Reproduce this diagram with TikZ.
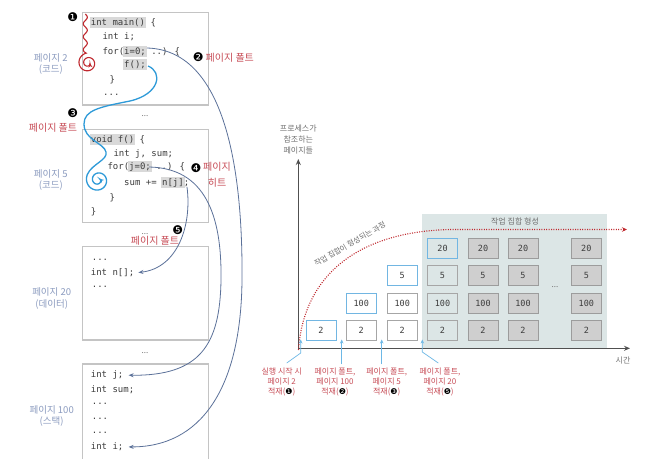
\documentclass[tikz,border=0pt]{standalone}
\usepackage{fontspec}
\setmainfont{Noto Sans CJK KR}
\newfontfamily\monof{DejaVu Sans Mono}
\newfontfamily\djv{DejaVu Sans}
\usetikzlibrary{arrows.meta}
\definecolor{boxc}{HTML}{C4C4C4}
\definecolor{codec}{HTML}{3C3C3C}
\definecolor{hlc}{HTML}{D9D9D9}
\definecolor{pagec}{HTML}{8C9CC0}
\definecolor{redc}{HTML}{C84E58}
\definecolor{connc}{HTML}{5B7199}
\definecolor{bluec}{HTML}{2E9AD8}
\definecolor{redw}{HTML}{C0282E}
\definecolor{bgc}{HTML}{DCE6E6}
\definecolor{newc}{HTML}{72B6E2}
\definecolor{oldc}{HTML}{A6A6A6}
\definecolor{fullc}{HTML}{CFCFCF}
\definecolor{fullbd}{HTML}{9C9C9C}
\definecolor{axisc}{HTML}{505050}
\definecolor{grayt}{HTML}{707070}
\definecolor{tarc}{HTML}{6DB8E6}
\newcommand\hl[1]{\setbox0=\hbox{#1}\rlap{\kern-1pt\textcolor{hlc}{\rule[-2.5pt]{\dimexpr\wd0+2pt\relax}{11pt}}}\box0\relax}
\begin{document}
\begin{tikzpicture}[x=1pt,y=-1pt,
  pagebox/.style={draw=boxc, line width=1.3pt, inner sep=0pt, minimum width=126pt},
  code/.style={anchor=base west, inner sep=0pt, font=\monof\fontsize{9}{10}\selectfont, text=codec, text height=7pt, text depth=2pt},
  pl/.style={text=pagec, align=center, font=\fontsize{9.5}{11.5}\selectfont, inner sep=0pt},
  rl/.style={text=redc, align=center, font=\fontsize{10}{16}\selectfont, inner sep=0pt},
  bn/.style={inner sep=0pt, font=\djv\fontsize{12}{12}\selectfont},
  gapdots/.style={anchor=base, inner sep=0pt, text=grayt, font=\fontsize{8}{8}\selectfont},
  conn/.style={draw=connc, line width=0.8pt, -{Stealth[length=5pt,width=4pt]}},
  gb/.style={draw, minimum width=30pt, minimum height=19.5pt, inner sep=0pt, font=\monof\fontsize{8.5}{9}\selectfont, text=codec, line width=1pt},
  gnew/.style={gb, draw=newc, fill=white},
  gold/.style={gb, draw=oldc, fill=white},
  gws/.style={gb, draw=oldc, fill=bgc},
  gwsnew/.style={gb, draw=newc, fill=bgc},
  gfull/.style={gb, draw=fullbd, fill=fullc},
  gl/.style={text=grayt, align=center, font=\fontsize{8}{11}\selectfont, inner sep=0pt},
  tl/.style={text=redc, align=center, font=\fontsize{8}{10}\selectfont, inner sep=0pt},
  axc/.style={draw=axisc, line width=1pt, -{Stealth[length=6pt,width=5pt]}},
  tarr/.style={draw=tarc, line width=0.7pt, -{Stealth[length=4pt,width=3.5pt]}}
]
\useasboundingbox (0,0) rectangle (666,458);
\fill[white] (0,0) rectangle (666,458);

% ---------- left: pages ----------
\node[pagebox, minimum height=92.7pt] (p2) at (145.3,58.65) {};
\node[pagebox, minimum height=93.4pt] (p5) at (145.3,176) {};
\node[pagebox, minimum height=93.3pt] (p20) at (145.3,293.35) {};
\node[pagebox, minimum height=116pt] (p100) at (145.3,422) {};

\node[gapdots] (d1) at (145,116.5) {...};
\node[gapdots] (d2) at (145,234) {...};
\node[gapdots] (d3) at (145,353) {...};

% page 2 code
\node[code] (c1a) at (90.7,25.5) {\hl{int main()} \{};
\node[code] (c1b) at (102.3,39.5) {int i;};
\node[code] (c1c) at (102.3,54.5) {for(\hl{i=0;} ..) \{};
\node[code] (c1d) at (124,67.7) {\hl{f();}};
\node[code] (c1e) at (109.3,82.7) {\}};
\node[code] (c1f) at (103,95.7) {...};

% page 5 code
\node[code] (c2a) at (90.7,142.7) {\hl{void f()} \{};
\node[code] (c2b) at (113.3,156.7) {int j, sum;};
\node[code] (c2c) at (107.3,169.4) {for(\hl{j=0;} ..) \{};
\node[code] (c2d) at (124,185.4) {sum += \hl{n[j]};};
\node[code] (c2e) at (109.3,200) {\}};
\node[code] (c2f) at (90.7,214.4) {\}};

% page 20 code
\node[code] (c3a) at (91.7,260) {...};
\node[code] (cn) at (90.7,275) {int n[];};
\node[code] (c3c) at (91.7,287.4) {...};

% page 100 code
\node[code] (cj) at (90.7,377.7) {int j;};
\node[code] (c4b) at (90.7,392) {int sum;};
\node[code] (c4c) at (91.7,404.7) {...};
\node[code] (c4d) at (91.7,419.7) {...};
\node[code] (c4e) at (91.7,433.7) {...};
\node[code] (ci) at (90.7,449.4) {int i;};

% page labels
\node[pl] (l2) at (50.8,63.9) {페이지 2\\(코드)};
\node[pl] (l5) at (50.8,180.2) {페이지 5\\(코드)};
\node[pl] (l20) at (51.7,298.3) {페이지 20\\(데이터)};
\node[pl] (l100) at (51.7,416.2) {페이지 100\\(스택)};

% numbers and red labels
\node[bn] (n1) at (72.7,17.3) {❶};
\node[bn] (n2) at (198.3,57.3) {❷};
\node[rl, anchor=west] (r2) at (205.5,57.3) {페이지 폴트};
\node[bn] (n3) at (72.7,113.5) {❸};
\node[rl] (r3) at (53,127.3) {페이지 폴트};
\node[bn] (n4) at (196,168.3) {❹};
\node[rl] (r4) at (217,174.7) {페이지\\히트};
\node[bn] (n5) at (177.7,230.5) {❺};
\node[rl] (r5) at (155,241) {페이지 폴트};

% red execution path (page 2)
\draw[redw, line width=1.1pt, -{Stealth[length=4pt,width=4pt]}]
  plot[domain=14:52, samples=60, smooth] ({85.3+2*sin((\x-14)*360/13)},\x)
  -- plot[domain=0:1, samples=70, smooth] ({88+(10-8*\x)*cos(-100-610*\x)},{63+(10-8*\x)*sin(-100-610*\x)});

% blue execution path (to page 5)
\draw[bluec, line width=1.3pt, -{Stealth[length=4pt,width=4pt]}]
  (148,66) .. controls (163,72) and (160,94) .. (130,101)
  .. controls (100,107) and (84,110) .. (84,124)
  .. controls (84,140) and (104,143) .. (106,152)
  .. controls (108,160) and (92,164) .. (87.6,174)
  -- plot[domain=0:1, samples=70, smooth] ({98+(12-10*\x)*cos(-150-600*\x)},{180+(12-10*\x)*sin(-150-600*\x)});

% connectors to data / stack
\coordinate (sA) at (147,48);
\coordinate (sC) at (149,167);
\coordinate (sB) at (187,187);
\draw[conn] (sA) .. controls (222,50) and (243,160) .. (242,280)
  .. controls (241,390) and (200,447) .. ([xshift=5pt]ci.east);
\draw[conn] (sC) .. controls (205,168) and (222,215) .. (221,280)
  .. controls (220,345) and (200,376) .. ([xshift=5pt]cj.east);
\draw[conn] (sB) .. controls (192,225) and (178,268) .. ([xshift=4pt]cn.east);

% ---------- right: graph ----------
\node[fill=bgc, minimum width=184.4pt, minimum height=134.3pt, inner sep=0pt] (ws) at (514.5,281.15) {};
\node[gl] (wst) at (515,221.7) {작업 집합 형성};

\coordinate (org) at (298.3,348.3);
\coordinate (ytip) at (298.3,159);
\coordinate (xtip) at (630,348.3);
\draw[axc] (org) -- (ytip);
\draw[axc] (org) -- (xtip);
\node[gl] (ylab) at (298.3,139.3) {프로세스가\\참조하는\\페이지들};
\node[gl] (tlab) at (623,361) {시간};

% boxes
\node[gnew] (a0) at (321,330.5) {2};
\node[gold] (b0) at (361.3,330.5) {2};
\node[gnew] (b1) at (361.3,303.3) {100};
\node[gold] (e0) at (402.2,330.5) {2};
\node[gold] (e1) at (402.2,303.3) {100};
\node[gnew] (e2) at (402.2,275.3) {5};
\node[gws] (f0) at (442.5,330.5) {2};
\node[gws] (f1) at (442.5,303.3) {100};
\node[gws] (f2) at (442.5,275.3) {5};
\node[gwsnew] (f3) at (442.5,248.3) {20};
\foreach \c/\x in {g/483, h/523, k/586.3}{
  \node[gfull] (\c0) at (\x,330.5) {2};
  \node[gfull] (\c1) at (\x,303.3) {100};
  \node[gfull] (\c2) at (\x,275.3) {5};
  \node[gfull] (\c3) at (\x,248.3) {20};
}
\node[gl] (gd) at (555,287) {...};

% working set curve
\coordinate (cs) at (298.5,350);
\coordinate (cm) at (450,229.5);
\coordinate (ce) at (627,229.5);
\draw[redw, line width=1.1pt, dash pattern=on 1pt off 1.4pt, -{Stealth[length=5pt,width=4.5pt]}]
  (cs) .. controls (303,282) and (350,232) .. (cm) -- (ce);
\node[gl, rotate=30, font=\fontsize{7.5}{9}\selectfont] (ct) at (350,244) {작업 집합이 형성되는 과정};

% time markers
\node[tl] (t1) at (281.7,381.7) {실행 시작 시\\페이지 2\\적재({\color{black}\djv ❶})};
\node[tl] (t2) at (335,381.7) {페이지 폴트,\\페이지 100\\적재({\color{black}\djv ❷})};
\node[tl] (t3) at (386.7,381.7) {페이지 폴트,\\페이지 5\\적재({\color{black}\djv ❸})};
\node[tl] (t4) at (440,381.7) {페이지 폴트,\\페이지 20\\적재({\color{black}\djv ❺})};
\coordinate (m1) at (300.7,339.5);
\coordinate (m1b) at (300.7,353);
\coordinate (m1c) at (286.7,363);
\coordinate (m2) at (341.7,339.5);
\coordinate (m2c) at (341.7,364);
\coordinate (m3) at (381.7,339.5);
\coordinate (m3c) at (381.7,364);
\coordinate (m4) at (422.3,339.5);
\coordinate (m4b) at (422.3,352);
\coordinate (m4c) at (438.3,363);
\draw[tarr] (m1c) -- (m1b) -- (m1);
\draw[tarr] (m2c) -- (m2);
\draw[tarr] (m3c) -- (m3);
\draw[tarr] (m4c) -- (m4b) -- (m4);
\end{tikzpicture}
\end{document}
